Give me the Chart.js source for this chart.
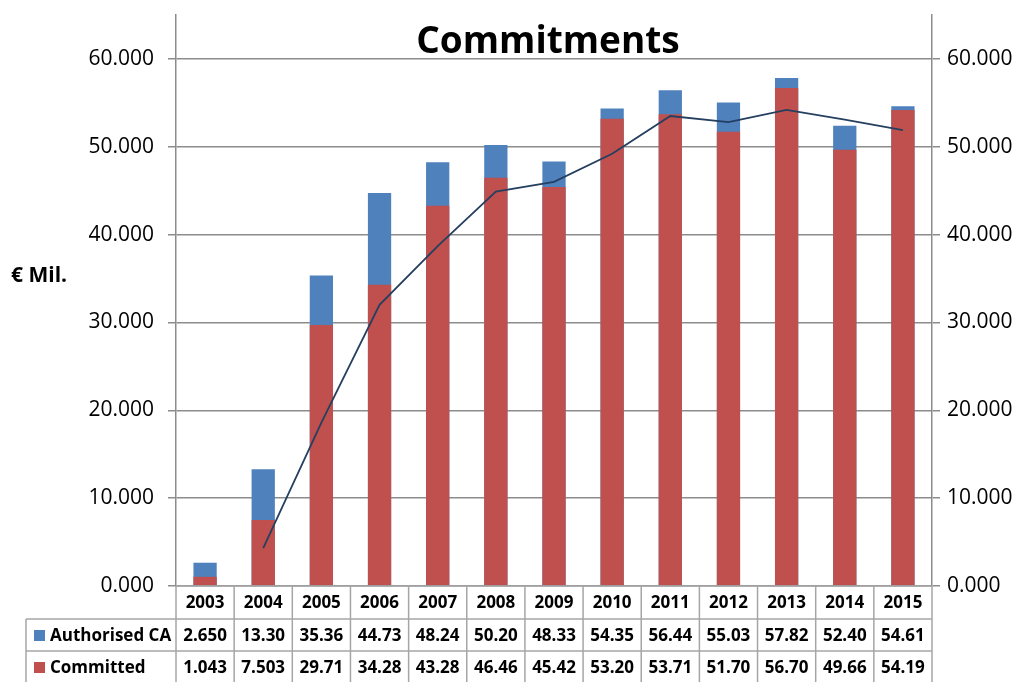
<!DOCTYPE html>
<html>
<head>
<meta charset="utf-8">
<script src="https://cdn.jsdelivr.net/npm/chart.js@4"></script>
<style>
  html, body { margin: 0; padding: 0; background: #fff; }
  #wrap { width: 1027px; height: 682px; position: relative; }
</style>
</head>
<body>
<div id="wrap"><canvas id="lienzo" width="1027" height="682"></canvas></div>
<script>
// datos del grafico
const years = ["2003","2004","2005","2006","2007","2008","2009","2010","2011","2012","2013","2014","2015"];
const authorisedCA = [2.650, 13.30, 35.36, 44.73, 48.24, 50.20, 48.33, 54.35, 56.44, 55.03, 57.82, 52.40, 54.61];
const committed = [1.043, 7.503, 29.71, 34.28, 43.28, 46.46, 45.42, 53.20, 53.71, 51.70, 56.70, 49.66, 54.19];
const lineValues = [null, 4.3, 18.6, 32.0, 38.7, 44.9, 46.0, 49.2, 53.5, 52.8, 54.2, 53.1, 51.9];
// etiquetas de la tabla (como aparecen en la imagen)
const authorisedLabels = ["2.650","13.30","35.36","44.73","48.24","50.20","48.33","54.35","56.44","55.03","57.82","52.40","54.61"];
const committedLabels = ["1.043","7.503","29.71","34.28","43.28","46.46","45.42","53.20","53.71","51.70","56.70","49.66","54.19"];
const tickLabels = ["0.000","10.000","20.000","30.000","40.000","50.000","60.000"];

const BLUE = '#4f81bd';
const RED = '#c0504d';
const GRID = '#8c8c8c';
const FONT = "'Open Sans', 'DejaVu Sans', sans-serif";

// titulo, etiqueta del eje y tabla de datos
const extras = {
    id: 'extras',
    afterDraw(chart) {
        const ctx = chart.ctx;
        const area = chart.chartArea;
        const x = chart.scales.x;
        const colW = (area.right - area.left) / years.length;
        ctx.save();

        // titulo con fondo blanco
        ctx.font = "bold 37px " + FONT;
        const title = "Commitments";
        const tw = ctx.measureText(title).width;
        const cx = (area.left + area.right) / 2 - 6;
        ctx.fillStyle = '#fff';
        ctx.fillRect(cx - tw / 2 - 4, 22, tw + 8, 36);
        ctx.fillStyle = '#000';
        ctx.textAlign = 'center';
        ctx.textBaseline = 'middle';
        ctx.fillText(title, cx, 42);

        // etiqueta eje
        ctx.font = "bold 21px " + FONT;
        ctx.textAlign = 'left';
        ctx.fillText("€ Mil.", 11, 276);

        // tabla
        const top = area.bottom;
        const rows = [top, 619, 651, 683];
        const tableLeft = 26;
        ctx.strokeStyle = '#a6a6a6';
        ctx.lineWidth = 1.5;
        ctx.beginPath();
        // lineas horizontales
        ctx.moveTo(area.left, rows[0]); ctx.lineTo(area.right, rows[0]);
        ctx.moveTo(tableLeft, rows[1]); ctx.lineTo(area.right, rows[1]);
        ctx.moveTo(tableLeft, rows[2]); ctx.lineTo(area.right, rows[2]);
        // lineas verticales
        ctx.moveTo(tableLeft, rows[1]); ctx.lineTo(tableLeft, rows[3]);
        for (let i = 0; i <= years.length; i++) {
            const px = area.left + i * colW;
            ctx.moveTo(px, rows[0]); ctx.lineTo(px, rows[3]);
        }
        ctx.stroke();

        ctx.fillStyle = '#000';
        ctx.font = "bold 17px " + FONT;
        ctx.textAlign = 'center';
        ctx.textBaseline = 'middle';
        years.forEach((y, i) => {
            const px = x.getPixelForValue(i);
            ctx.fillText(y, px, (rows[0] + rows[1]) / 2 + 1);
            ctx.fillText(authorisedLabels[i], px, (rows[1] + rows[2]) / 2 + 1);
            ctx.fillText(committedLabels[i], px, (rows[2] + rows[3]) / 2 + 1);
        });

        // leyenda en la tabla
        ctx.textAlign = 'left';
        ctx.fillStyle = BLUE;
        ctx.fillRect(34, 630, 11, 11);
        ctx.fillStyle = RED;
        ctx.fillRect(34, 662, 11, 11);
        ctx.fillStyle = '#000';
        ctx.fillText("Authorised CA", 50, (rows[1] + rows[2]) / 2 + 1);
        ctx.fillText("Committed", 50, (rows[2] + rows[3]) / 2 + 1);
        ctx.restore();
    }
};

const contexto = document.getElementById("lienzo").getContext("2d");
const grafico = new Chart(contexto, {
    type: 'bar',
    data: {
        labels: years,
        datasets: [
            {
                type: 'line',
                label: 'Trend',
                data: lineValues,
                borderColor: '#243f60',
                borderWidth: 1.8,
                pointRadius: 0,
                tension: 0,
                order: 0
            },
            {
                label: 'Committed',
                data: committed,
                backgroundColor: RED,
                order: 1
            },
            {
                label: 'Authorised CA',
                data: authorisedCA,
                backgroundColor: BLUE,
                order: 2
            }
        ]
    },
    options: {
        responsive: false,
        animation: false,
        layout: { padding: { top: 15, bottom: 96, left: 0, right: 0 } },
        datasets: {
            bar: { grouped: false, categoryPercentage: 1, barPercentage: 0.4 }
        },
        scales: {
            x: { display: false },
            y: {
                position: 'left',
                min: 0, max: 65,
                afterBuildTicks: s => { s.ticks = s.ticks.filter(t => t.value <= 60); },
                afterFit: s => { s.width = 176; s.paddingTop = 0; },
                ticks: {
                    stepSize: 10,
                    padding: 14,
                    color: '#000',
                    font: { family: FONT, size: 21 },
                    callback: v => tickLabels[v / 10]
                },
                grid: { color: GRID, lineWidth: 1.5, tickLength: 8, tickColor: GRID },
                border: { color: GRID, width: 1.5 }
            },
            y2: {
                position: 'right',
                min: 0, max: 65,
                afterBuildTicks: s => { s.ticks = s.ticks.filter(t => t.value <= 60); },
                afterFit: s => { s.width = 1027 - 932; s.paddingTop = 0; },
                ticks: {
                    stepSize: 10,
                    padding: 7,
                    color: '#000',
                    font: { family: FONT, size: 21 },
                    callback: v => tickLabels[v / 10]
                },
                grid: { drawOnChartArea: false, color: GRID, lineWidth: 1.5, tickLength: 8 },
                border: { color: GRID, width: 1.5 }
            }
        },
        plugins: {
            legend: { display: false },
            tooltip: { enabled: false }
        }
    },
    plugins: [extras]
});
</script>
</body>
</html>
